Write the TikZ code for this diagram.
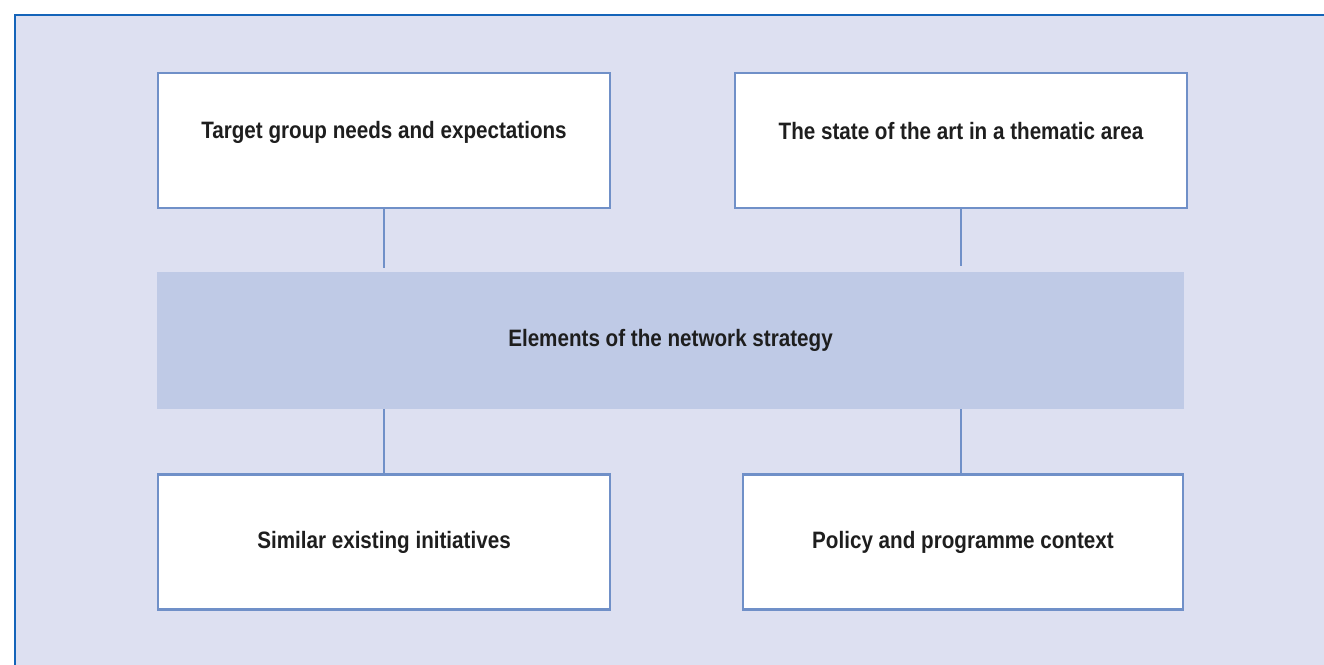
\documentclass[tikz,border=0pt]{standalone}
\usepackage{fontspec}
\setmainfont{Liberation Sans}[FakeStretch=0.87]
\definecolor{framecol}{RGB}{20,100,185}
\definecolor{panelcol}{RGB}{221,224,241}
\definecolor{edgecol}{RGB}{112,144,200}
\definecolor{bandcol}{RGB}{191,202,230}
\definecolor{inkcol}{RGB}{30,30,30}
\begin{document}
\begin{tikzpicture}[x=0.02cm, y=-0.02cm,
    factor/.style = {draw=edgecol, line width=1.2pt, fill=white, minimum width=452*0.02cm, minimum height=135*0.02cm, font=\fontsize{13.5}{16}\selectfont\bfseries, text=inkcol},
    strategy/.style = {fill=bandcol, minimum width=1027*0.02cm, minimum height=137*0.02cm, font=\fontsize{13.5}{16}\selectfont\bfseries, text=inkcol},
    link/.style = {draw=edgecol, line width=1.2pt}]
\useasboundingbox (0,0) rectangle (1324,664);
% panel behind everything
\fill[panelcol] (15,15) rectangle (1330,670);
\draw[framecol, line width=1.2pt] (15,670) -- (15,15) -- (1330,15);
% the four factors and the strategy band
\node[factor, text depth=0.42cm] (needs) at (384,140.5) {Target group needs and expectations};
\node[factor, text depth=0.4cm] (art) at (961,140.5) {The state of the art in a thematic area};
\node[strategy] (band) at (670.5,340.5) {Elements of the network strategy};
\node[factor] (similar) at (384,542) {Similar existing initiatives};
\node[factor, minimum width=440*0.02cm] (policy) at (963,542) {Policy and programme context};
% connectors
\draw[link, shorten >=2] (needs.south) -- (needs.south |- band.north);
\draw[link, shorten >=3] (art.south) -- (art.south |- band.north);
\draw[link] (similar.north |- band.south) -- (similar.north);
\draw[link] (policy.north -| art.south) -- (art.south |- band.south);
\end{tikzpicture}
\end{document}
